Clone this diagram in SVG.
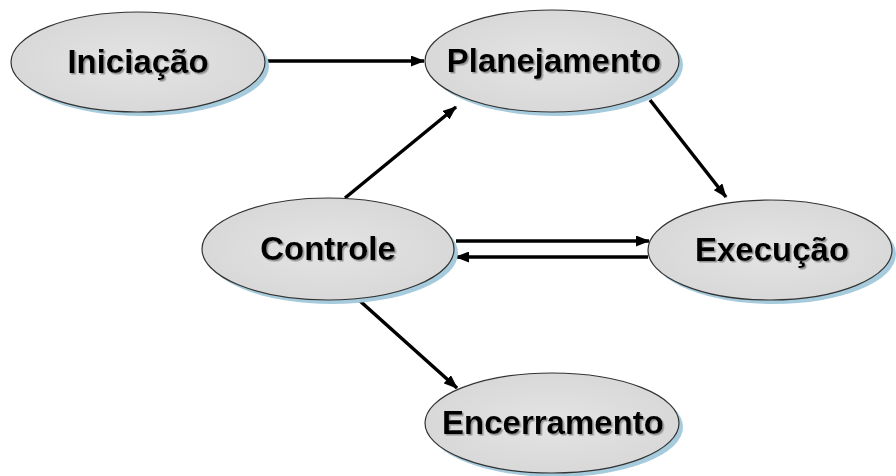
<svg xmlns="http://www.w3.org/2000/svg" width="896" height="476" viewBox="0 0 896 476">
<defs>
<marker id="ah" markerWidth="14" markerHeight="11" refX="13" refY="5.5" orient="auto" markerUnits="userSpaceOnUse">
<path d="M0,0 L14,5.5 L0,11 z" fill="#000"/>
</marker>
<radialGradient id="g" cx="0.5" cy="0.5" r="0.6">
<stop offset="0" stop-color="#e4e4e4"/>
<stop offset="1" stop-color="#d6d6d6"/>
</radialGradient>
<filter id="ds" x="-10%" y="-20%" width="120%" height="150%">
<feDropShadow dx="1.5" dy="1.5" stdDeviation="0.6" flood-color="#888" flood-opacity="0.9"/>
</filter>
</defs>
<style>
.sh{fill:#a6cbdd}
.el{fill:url(#g);stroke:#333;stroke-width:1.2}
.t{font-family:"Liberation Sans",Arial,sans-serif;font-weight:bold;font-size:33px;text-anchor:middle;fill:#000;filter:url(#ds)}
.c{stroke:#000;stroke-width:3.5;fill:none;marker-end:url(#ah)}
</style>
<rect width="896" height="476" fill="#fff"/>
<g id="connectors">
<line class="c" x1="266" y1="61" x2="424" y2="61"/>
<line class="c" x1="345" y1="198" x2="456" y2="107"/>
<line class="c" x1="650" y1="100" x2="726" y2="197"/>
<line class="c" x1="456" y1="241" x2="649" y2="241"/>
<line class="c" x1="648" y1="257" x2="456" y2="257"/>
<line class="c" x1="360" y1="301" x2="457" y2="388"/>
</g>
<g id="iniciacao">
<ellipse class="sh" cx="142" cy="66" rx="127" ry="50"/>
<ellipse class="el" cx="138" cy="62" rx="127" ry="50"/>
<text class="t" x="138" y="73">Iniciação</text>
</g>
<g id="planejamento">
<ellipse class="sh" cx="556" cy="65" rx="127" ry="51"/>
<ellipse class="el" cx="552" cy="61" rx="127" ry="51"/>
<text class="t" x="554" y="72">Planejamento</text>
</g>
<g id="controle">
<ellipse class="sh" cx="332" cy="253" rx="126" ry="51"/>
<ellipse class="el" cx="328" cy="249" rx="126" ry="51"/>
<text class="t" x="328" y="260">Controle</text>
</g>
<g id="execucao">
<ellipse class="sh" cx="774" cy="254" rx="122" ry="50"/>
<ellipse class="el" cx="770" cy="250" rx="122" ry="50"/>
<text class="t" x="772" y="261">Execução</text>
</g>
<g id="encerramento">
<ellipse class="sh" cx="556" cy="427" rx="127" ry="50"/>
<ellipse class="el" cx="552" cy="423" rx="127" ry="50"/>
<text class="t" x="553" y="434">Encerramento</text>
</g>
</svg>
